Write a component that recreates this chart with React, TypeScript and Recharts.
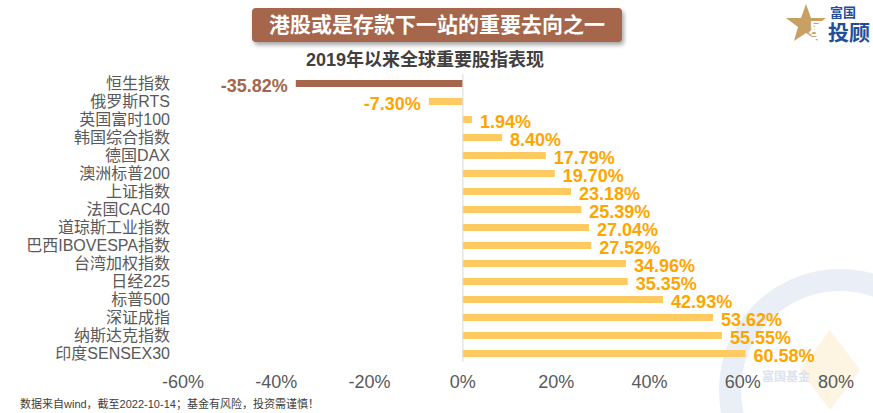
import React from "react";
import { BarChart, Bar, XAxis, YAxis, Cell, LabelList, ReferenceLine } from "recharts";

const categories = [
  "恒生指数",
  "俄罗斯RTS",
  "英国富时100",
  "韩国综合指数",
  "德国DAX",
  "澳洲标普200",
  "上证指数",
  "法国CAC40",
  "道琼斯工业指数",
  "巴西IBOVESPA指数",
  "台湾加权指数",
  "日经225",
  "标普500",
  "深证成指",
  "纳斯达克指数",
  "印度SENSEX30",
];

const returns = [
  -35.82, -7.3, 1.94, 8.4, 17.79, 19.7, 23.18, 25.39, 27.04, 27.52, 34.96, 35.35, 42.93, 53.62, 55.55, 60.58,
];

const xTicks = [-60, -40, -20, 0, 20, 40, 60, 80];

const FONT = '"Liberation Sans", Arial, "Noto Sans CJK SC", sans-serif';
const BROWN = "#A5664C";
const YELLOW = "#FFCA60";
const ORANGE = "#FFA500";
const GREY = "#595959";

const data = categories.map((name, i) => ({ name, value: returns[i] }));

// value label: right of positive bars, left of negative bars
function ValueLabel(props: any) {
  const { x, y, width, height, value, index } = props;
  const left = Math.min(x, x + width);
  const right = Math.max(x, x + width);
  const neg = value < 0;
  return (
    <text
      x={neg ? left - 8 : right + 8}
      y={y + height / 2 + 2}
      textAnchor={neg ? "end" : "start"}
      dominantBaseline="central"
      fontSize={18}
      fontWeight="bold"
      fontFamily={FONT}
      fill={index === 0 ? BROWN : ORANGE}
    >
      {`${Number(value).toFixed(2)}%`}
    </text>
  );
}

function CatTick(props: any) {
  const { x, y, payload } = props;
  return (
    <text x={x} y={y} textAnchor="end" dominantBaseline="central" fontSize={16} fill={GREY} fontFamily={FONT}>
      {payload.value}
    </text>
  );
}

function PctTick(props: any) {
  const { x, y, payload } = props;
  return (
    <text x={x} y={y} textAnchor="middle" dominantBaseline="central" fontSize={18} fill={GREY} fontFamily={FONT}>
      {`${payload.value}%`}
    </text>
  );
}

export default function App() {
  return (
    <div
      style={{
        position: "fixed",
        left: 0,
        top: 0,
        width: 873,
        height: 413,
        background: "#fff",
        overflow: "hidden",
        fontFamily: FONT,
      }}
    >
      {/* watermark */}
      <svg width={873} height={413} style={{ position: "absolute", left: 0, top: 0 }}>
        <circle cx={840} cy={390} r={110} fill="none" stroke="#EAEFF7" strokeWidth={22} />
        <polygon points="830,330 860,370 830,410 800,370" fill="#FDF5E2" />
        <text x={762} y={381} fontSize={12} fill="#DCE3EE" fontWeight="bold" fontFamily={FONT}>
          富国基金
        </text>
      </svg>

      <div style={{ position: "absolute", left: 0, top: 0 }}>
        <BarChart
          width={873}
          height={400}
          data={data}
          layout="vertical"
          margin={{ top: 74, right: 37, left: 0, bottom: 8 }}
          barSize={7}
        >
          <XAxis
            type="number"
            domain={[-60, 80]}
            ticks={xTicks}
            axisLine={false}
            tickLine={false}
            height={30}
            tickMargin={14}
            tick={<PctTick />}
          />
          <YAxis
            type="category"
            dataKey="name"
            width={183}
            axisLine={false}
            tickLine={false}
            interval={0}
            tickMargin={7}
            tick={<CatTick />}
          />
          <ReferenceLine x={0} stroke="#D9D9D9" strokeWidth={1} />
          <Bar dataKey="value" isAnimationActive={false}>
            {data.map((d, i) => (
              <Cell key={d.name} fill={i === 0 ? BROWN : YELLOW} />
            ))}
            <LabelList dataKey="value" content={<ValueLabel />} />
          </Bar>
        </BarChart>
      </div>

      {/* title banner */}
      <div
        style={{
          position: "absolute",
          left: 252,
          top: 8,
          width: 370,
          height: 34,
          background: BROWN,
          borderRadius: 4,
          boxShadow: "2px 3px 4px rgba(0,0,0,0.35)",
          color: "#fff",
          fontSize: 21,
          fontWeight: "bold",
          lineHeight: "34px",
          textAlign: "center",
          fontFamily: FONT,
        }}
      >
        港股或是存款下一站的重要去向之一
      </div>

      <div
        style={{
          position: "absolute",
          left: 0,
          width: 850,
          top: 49,
          textAlign: "center",
          fontSize: 18,
          fontWeight: "bold",
          color: "#404040",
          lineHeight: "22px",
        }}
      >
        2019年以来全球重要股指表现
      </div>

      {/* logo */}
      <svg width={110} height={50} style={{ position: "absolute", left: 770, top: 0 }}>
        <polygon
          points="36,4 41,18 56,18 44,27 48,41 36,33 24,41 28,27 16,18 31,18"
          fill="#C9A063"
        />
        <text x={60} y={17} fontSize={13} fontWeight="bold" fill="#1F4E9C" fontFamily={FONT}>
          富国
        </text>
        <text x={38} y={38} fontSize={20} fontWeight="bold" fill="#fff" fontFamily={FONT}>
          星
        </text>
        <text x={58} y={40} fontSize={21} fontWeight="bold" fill="#1F4E9C" fontFamily={FONT}>
          投顾
        </text>
      </svg>

      <div
        style={{
          position: "absolute",
          left: 20,
          top: 397,
          fontSize: 11,
          color: "#404040",
          lineHeight: "14px",
        }}
      >
        数据来自wind，截至2022-10-14；基金有风险，投资需谨慎！
      </div>
    </div>
  );
}
